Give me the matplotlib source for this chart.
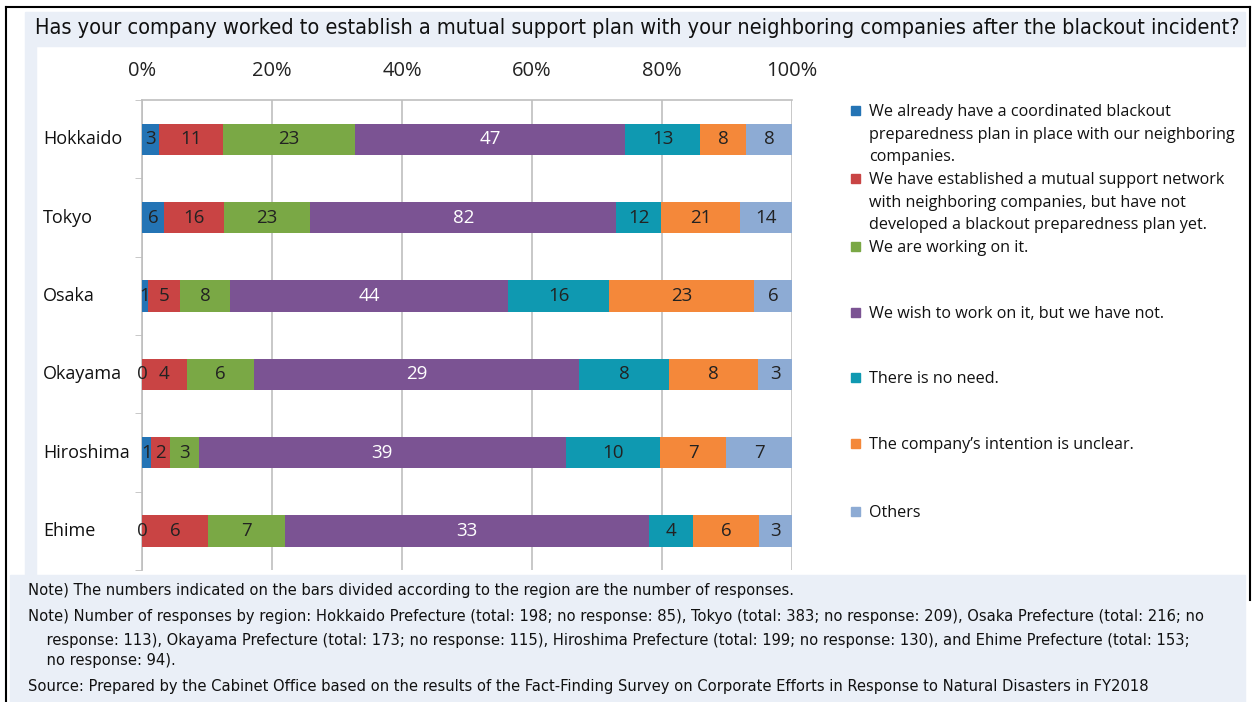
import numpy as np
import matplotlib.pyplot as plt
from matplotlib.patches import Rectangle

# Datos
regiones = ["Hokkaido", "Tokyo", "Osaka", "Okayama", "Hiroshima", "Ehime"]
ya_plan = [3, 6, 1, 0, 1, 0]
red_apoyo = [11, 16, 5, 4, 2, 6]
trabajando = [23, 23, 8, 6, 3, 7]
deseo = [47, 82, 44, 29, 39, 33]
sin_necesidad = [13, 12, 16, 8, 10, 4]
no_claro = [8, 21, 23, 8, 7, 6]
otros = [8, 14, 6, 3, 7, 3]

series = [ya_plan, red_apoyo, trabajando, deseo, sin_necesidad, no_claro, otros]
etiquetas = [
    "We already have a coordinated blackout\npreparedness plan in place with our neighboring\ncompanies.",
    "We have established a mutual support network\nwith neighboring companies, but have not\ndeveloped a blackout preparedness plan yet.",
    "We are working on it.",
    "We wish to work on it, but we have not.",
    "There is no need.",
    "The company\u2019s intention is unclear.",
    "Others",
]
colores = ["#2474B5", "#C94444", "#7AA845", "#7B5393", "#0F99B1", "#F4883A", "#8DABD4"]
colores_texto = ["#222222", "#222222", "#222222", "white", "#222222", "#222222", "#222222"]

tick_labels = ["0%", "20%", "40%", "60%", "80%", "100%"]

titulo = "Has your company worked to establish a mutual support plan with your neighboring companies after the blackout incident?"
notas = [
    "Note) The numbers indicated on the bars divided according to the region are the number of responses.",
    "Note) Number of responses by region: Hokkaido Prefecture (total: 198; no response: 85), Tokyo (total: 383; no response: 209), Osaka Prefecture (total: 216; no",
    "    response: 113), Okayama Prefecture (total: 173; no response: 115), Hiroshima Prefecture (total: 199; no response: 130), and Ehime Prefecture (total: 153;",
    "    no response: 94).",
    "Source: Prepared by the Cabinet Office based on the results of the Fact-Finding Survey on Corporate Efforts in Response to Natural Disasters in FY2018",
]

valores = np.array(series, dtype=float)
totales = valores.sum(axis=0)
pct = valores / totales * 100

plt.rcParams['font.family'] = ['Open Sans', 'DejaVu Sans']

W, H = 1253, 702
fig = plt.figure(figsize=(W / 100, H / 100), dpi=100)

def fx(px):
    return px / W

def fy(py):
    return 1 - py / H

# Fondos y marco
fondo = "#EAEFF7"
fig.patches.append(Rectangle((fx(25), fy(46)), fx(1245) - fx(25), fy(12) - fy(46),
                             transform=fig.transFigure, color=fondo, zorder=0))
fig.patches.append(Rectangle((fx(25), fy(575)), fx(36) - fx(25), fy(46) - fy(575),
                             transform=fig.transFigure, color=fondo, zorder=0))
fig.patches.append(Rectangle((fx(10), fy(702)), fx(1245) - fx(10), fy(575) - fy(702),
                             transform=fig.transFigure, color=fondo, zorder=0))
fig.add_artist(plt.Line2D([fx(6), fx(1250)], [fy(7), fy(7)], color="black", lw=1.5))
fig.add_artist(plt.Line2D([fx(6), fx(6)], [fy(7), fy(702)], color="black", lw=1.5))
fig.add_artist(plt.Line2D([fx(1250), fx(1250)], [fy(7), fy(600)], color="black", lw=1.5))

fig.text(fx(35), fy(28), titulo, fontsize=15.6, va="center", ha="left",
         family="DejaVu Sans", fontstretch="condensed", color="#111111")

# Gráfica
ax = fig.add_axes([fx(142), fy(570), fx(792) - fx(142), fy(100) - fy(570)])
y = np.arange(len(regiones))
izq = np.zeros(len(regiones))
for i in range(len(series)):
    ax.barh(y, pct[i], left=izq, height=0.4, color=colores[i], zorder=3)
    for j in range(len(regiones)):
        ax.text(izq[j] + pct[i][j] / 2, y[j], str(series[i][j]), ha="center", va="center",
                fontsize=13.5, color=colores_texto[i], zorder=4)
    izq += pct[i]

ax.set_xlim(0, 100)
ax.set_ylim(len(regiones) - 0.5, -0.5)
ax.xaxis.tick_top()
ax.set_xticks([0, 20, 40, 60, 80, 100])
ax.set_xticklabels(tick_labels, fontsize=14.5)
ax.tick_params(axis="x", length=0, pad=14, colors="#222222")
ax.set_yticks(y)
ax.set_yticklabels([])
ax.tick_params(axis="y", length=0)
ax.set_yticks(np.arange(len(regiones) + 1) - 0.5, minor=True)
ax.tick_params(axis="y", which="minor", length=5, color="#BFBFBF")
for j, r in enumerate(regiones):
    ax.text(-15.2, y[j], r, ha="left", va="center", fontsize=13, color="#111111")
ax.grid(axis="x", color="#BFBFBF", lw=1.2, zorder=0)
for s in ["right", "bottom"]:
    ax.spines[s].set_visible(False)
ax.spines["top"].set_color("#BFBFBF")
ax.spines["left"].set_color("#BFBFBF")
ax.spines["top"].set_linewidth(1.2)
ax.spines["left"].set_linewidth(1.2)

# Leyenda
pos_leyenda = [110, 178, 246, 312, 377, 443, 511]
for i in range(len(etiquetas)):
    fig.patches.append(Rectangle((fx(851), fy(pos_leyenda[i] + 5)), fx(9), 9 / H,
                                 transform=fig.transFigure, color=colores[i]))
    fig.text(fx(869), fy(pos_leyenda[i] - 6), etiquetas[i], fontsize=11.6, va="top", ha="left",
             linespacing=1.55, color="#111111")

# Notas
pos_notas = [591, 617, 640, 661, 686]
for n, py in zip(notas, pos_notas):
    fig.text(fx(28), fy(py), n, fontsize=11.8, va="center", ha="left",
             family="DejaVu Sans", fontstretch="condensed", color="#111111")

fig.savefig("out.png", dpi=100)
